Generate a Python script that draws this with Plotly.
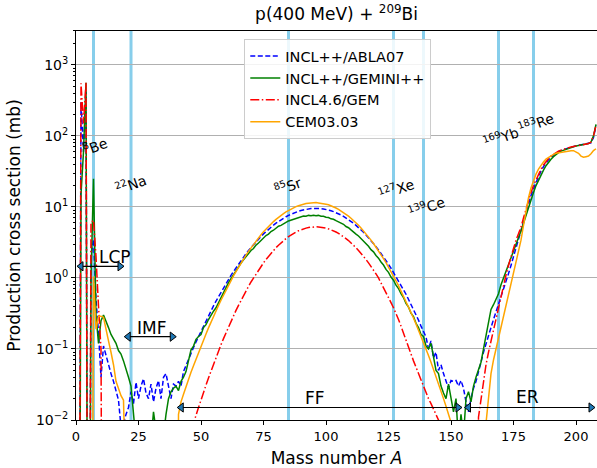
import numpy as np
import plotly.graph_objects as go

# Mass numbers A = 1 .. 208
A = list(range(1, 209))

# ---- INCL++/ABLA07 (mb) ----
abla07 = [
    0, 300, 60, 420, 0, 2.0, 3.5, 0.5, 0.17, 0.04,                      # 1-10
    0.11, 0.08, 0.06, 0.045, 0.035, 0.026, 0.019, 0.008, 0.009, 0.012,  # 11-20
    0.015, 0.025, 0.017, 0.034, 0.02, 0.03, 0.038, 0.024, 0.02, 0.032,  # 21-30
    0.018, 0.028, 0.036, 0.02, 0.04, 0.045, 0.03, 0.02, 0.032, 0.03,   # 31-40
    0.035, 0.03, 0.048, 0.059, 0.072, 0.087, 0.105, 0.126, 0.15, 0.179, # 41-50
    0.212, 0.251, 0.296, 0.347, 0.405, 0.472, 0.547, 0.632, 0.728, 0.836,  # 51-60
    0.955, 1.09, 1.23, 1.39, 1.57, 1.76, 1.96, 2.19, 2.43, 2.68,       # 61-70
    2.95, 3.24, 3.53, 3.85, 4.17, 4.5, 4.84, 5.2, 5.55, 5.9,           # 71-80
    6.25, 6.61, 6.95, 7.28, 7.6, 7.91, 8.2, 8.47, 8.71, 8.93,          # 81-90
    9.12, 9.27, 9.4, 9.48, 9.53, 9.55, 9.53, 9.47, 9.37, 9.23,         # 91-100
    9.05, 8.84, 8.59, 8.32, 8.02, 7.7, 7.36, 7.0, 6.64, 6.26,          # 101-110
    5.89, 5.5, 5.13, 4.75, 4.39, 4.03, 3.69, 3.37, 3.05, 2.76,         # 111-120
    2.48, 2.23, 1.99, 1.77, 1.56, 1.37, 1.2, 1.05, 0.91, 0.79,         # 121-130
    0.68, 0.59, 0.5, 0.43, 0.36, 0.3, 0.255, 0.21, 0.18, 0.148,        # 131-140
    0.1, 0.13, 0.075, 0.09, 0.05, 0.06, 0.045, 0.035, 0.028, 0.036,    # 141-150
    0.035, 0.036, 0.03, 0.036, 0.028, 0.018, 0.013, 0.02, 0.028, 0.035,  # 151-160
    0.05, 0.065, 0.09, 0.12, 0.16, 0.2, 0.26, 0.33, 0.42, 0.55,        # 161-170
    0.7, 0.9, 1.15, 1.5, 2.0, 2.6, 3.4, 4.4, 6, 8,                     # 171-180
    11, 14.5, 18, 22, 27, 32, 37, 42, 46, 50,                          # 181-190
    54, 57, 60, 62, 64, 66, 68, 70, 71, 72,                            # 191-200
    73, 74, 75, 76, 77, 80, 95, 140,                                   # 201-208
]

# ---- INCL++/GEMINI++ (mb) ----
gemini = [
    0, 15, 60, 560, 0, 1.0, 25, 0.3, 0.12, 0.25,
    0.3, 0.25, 0.2, 0.16, 0.14, 0.12, 0.095, 0.085, 0.068, 0.05,
    0.04, 0.03, 0.012, 0.005, 0.004, 0.003, 0.004, 0.003, 0.004, 0.005,
    0.013, 0.006, 0.004, 0.005, 0.006, 0.012, 0.02, 0.025, 0.028, 0.03,
    0.026, 0.035, 0.04, 0.048, 0.07, 0.097, 0.11, 0.137, 0.15, 0.16,
    0.2, 0.22, 0.26, 0.3, 0.34, 0.38, 0.45, 0.53, 0.63, 0.74,
    0.86, 0.98, 1.12, 1.28, 1.45, 1.62, 1.8, 2.0, 2.2, 2.44,
    2.6, 2.9, 3.1, 3.4, 3.6, 3.95, 4.15, 4.5, 4.7, 5.0,
    5.35, 5.5, 5.85, 6.05, 6.35, 6.5, 6.8, 6.9, 7.15, 7.2,
    7.45, 7.4, 7.6, 7.5, 7.65, 7.5, 7.6, 7.4, 7.4, 7.15,
    7.1, 6.8, 6.7, 6.4, 6.2, 5.9, 5.7, 5.3, 5.1, 4.75,
    4.5, 4.15, 3.9, 3.6, 3.35, 3.0, 2.8, 2.5, 2.33, 2.07,
    1.9, 1.68, 1.52, 1.32, 1.2, 1.03, 0.93, 0.79, 0.71, 0.6,
    0.53, 0.44, 0.39, 0.32, 0.285, 0.23, 0.2, 0.16, 0.15, 0.11,
    0.1, 0.12, 0.075, 0.05, 0.045, 0.03, 0.024, 0.02, 0.032, 0.02,
    0.013, 0.02, 0.005, 0.012, 0.006, 0.02, 0.025, 0.018, 0.03, 0.04,
    0.05, 0.065, 0.1, 0.15, 0.22, 0.36, 0.42, 0.5, 0.6, 0.8,
    1.0, 1.3, 1.6, 2.0, 2.5, 3.0, 3.7, 4.6, 6.0, 7.8,
    10, 13, 16, 20, 24, 28.5, 33, 38, 43, 47,
    51, 55, 58, 61, 63, 65, 67, 69, 70.5, 72,
    73, 74, 75, 76, 78, 82, 100, 145,
]

# ---- INCL4.6/GEM (mb) ----
gem = [
    0, 550, 150, 560, 0, 6, 6.5, 2, 0.4, 0.1,
    0, 0, 0, 0, 0, 0, 0, 0, 0, 0,
    0, 0, 0, 0, 0, 0, 0, 0, 0, 0,
    0, 0, 0, 0, 0, 0, 0, 0, 0, 0,
    0, 0, 0, 0, 0, 0, 0.009, 0.012, 0.015, 0.019,
    0.025, 0.031, 0.039, 0.049, 0.061, 0.076, 0.094, 0.115, 0.14, 0.17,
    0.205, 0.246, 0.294, 0.349, 0.412, 0.485, 0.566, 0.659, 0.762, 0.877,
    1.0, 1.14, 1.29, 1.46, 1.63, 1.82, 2.02, 2.23, 2.44, 2.67,
    2.89, 3.13, 3.36, 3.58, 3.81, 4.03, 4.24, 4.43, 4.61, 4.77,
    4.91, 5.03, 5.13, 5.2, 5.23, 5.25, 5.23, 5.2, 5.13, 5.03,
    4.91, 4.77, 4.61, 4.43, 4.24, 4.03, 3.81, 3.58, 3.36, 3.13,
    2.89, 2.67, 2.44, 2.23, 2.02, 1.82, 1.63, 1.46, 1.29, 1.14,
    1.0, 0.86, 0.74, 0.63, 0.53, 0.45, 0.38, 0.32, 0.26, 0.21,
    0.17, 0.135, 0.105, 0.085, 0.068, 0.055, 0.045, 0.037, 0.03, 0.025,
    0.02, 0.017, 0.014, 0.012, 0.01, 0.007, 0, 0, 0, 0,
    0, 0, 0, 0, 0, 0, 0, 0, 0, 0,
    0.011, 0.02, 0.035, 0.06, 0.09, 0.13, 0.19, 0.27, 0.38, 0.52,
    0.75, 1.1, 1.5, 2.0, 2.7, 3.4, 4.2, 5.2, 7, 9.5,
    12.5, 16, 20, 24, 29, 34, 39, 44, 48, 52,
    55, 58, 61, 63, 65, 67, 69, 70, 71, 72,
    73, 74, 75, 76, 78, 82, 100, 140,
]

# ---- CEM03.03 (mb) ----
cem = [
    0, 0, 0, 0, 0, 0, 1.05, 0.19, 0.29, 0.29,
    0.28, 0.2, 0.13, 0.09, 0.06, 0.035, 0.027, 0.022, 0.019, 0,
    0, 0, 0, 0, 0, 0, 0, 0, 0, 0,
    0, 0, 0, 0, 0, 0, 0, 0, 0, 0,
    0.012, 0.018, 0.023, 0.03, 0.037, 0.047, 0.058, 0.072, 0.089, 0.11,
    0.134, 0.163, 0.198, 0.24, 0.287, 0.344, 0.41, 0.486, 0.574, 0.675,
    0.79, 0.92, 1.07, 1.23, 1.42, 1.62, 1.85, 2.1, 2.37, 2.66,
    2.98, 3.32, 3.68, 4.06, 4.47, 4.89, 5.32, 5.77, 6.22, 6.68,
    7.16, 7.62, 8.07, 8.53, 8.95, 9.38, 9.75, 10.1, 10.4, 10.7,
    11.0, 11.2, 11.3, 11.4, 11.5, 11.5, 11.4, 11.3, 11.1, 10.9,
    10.7, 10.4, 10.0, 9.66, 9.25, 8.81, 8.36, 7.89, 7.41, 6.93,
    6.46, 5.98, 5.51, 5.06, 4.61, 4.2, 3.79, 3.41, 3.05, 2.72,
    2.42, 2.13, 1.87, 1.64, 1.43, 1.24, 1.06, 0.91, 0.78, 0.66,
    0.56, 0.47, 0.395, 0.33, 0.273, 0.225, 0.185, 0.151, 0.123, 0.1,
    0.081, 0.065, 0.052, 0.041, 0.032, 0.0255, 0.02, 0.0156, 0.0121, 0.0093,
    0, 0, 0, 0, 0, 0, 0, 0, 0, 0,
    0, 0, 0, 0.009, 0.02, 0.045, 0.07, 0.1, 0.15, 0.21,
    0.3, 0.43, 0.6, 0.85, 1.2, 1.7, 2.4, 3.4, 5.5, 9,
    13.5, 18.5, 24, 29, 34, 39, 43, 47, 50, 53,
    55, 57, 58, 59, 60, 61, 62, 62, 62, 60,
    57, 52, 50, 51, 52, 56, 62, 66,
]

# Nuclides marked by vertical lines
nuclide_A = [7, 22, 85, 127, 139, 169, 183]
nuclide_txt = ["<sup>8</sup>Be", "<sup>22</sup>Na", "<sup>85</sup>Sr", "<sup>127</sup>Xe",
               "<sup>139</sup>Ce", "<sup>169</sup>Yb", "<sup>183</sup>Re"]
nuclide_lab_x = [7.5, 22, 84.5, 128, 140, 170, 184]
nuclide_lab_y = [72, 21, 20, 18, 10, 95, 150]

# Regions: name, A-start, A-end, arrow height (mb), label position
region_name = ["LCP", "IMF", "FF", "ER"]
region_from = [2.0, 20.9, 42.1, 157.0]
region_to = [17.6, 38.5, 152.8, 206.0]
region_y = [1.46, 0.149, 0.015, 0.015]
region_lab_x = [15.6, 30.2, 95.7, 180.7]
region_lab_y = [2.0, 0.2, 0.0203, 0.0208]

series = [
    ("INCL++/ABLA07", abla07, "#0000ff", "5px,2.5px"),
    ("INCL++/GEMINI++", gemini, "#008000", "solid"),
    ("INCL4.6/GEM", gem, "#ff0000", "9px,2.5px,1.5px,2.5px"),
    ("CEM03.03", cem, "#ffa500", "solid"),
]

fig = go.Figure()
for name, vals, col, dash in series:
    v = np.array(vals, dtype=float)
    v = np.where(v > 0, v, 1e-9)  # like matplotlib's clipping of non-positive values on log axes
    fig.add_trace(go.Scatter(x=A, y=v, mode="lines", name=name,
                             line=dict(color=col, width=1.5, dash=dash)))

# Region arrows
for i in range(len(region_name)):
    fig.add_trace(go.Scatter(
        x=[region_from[i], region_to[i]], y=[region_y[i], region_y[i]],
        mode="lines+markers", showlegend=False, hoverinfo="skip",
        line=dict(color="black", width=1.2),
        marker=dict(symbol=["triangle-left", "triangle-right"], size=8,
                    color="#1f77b4", line=dict(color="black", width=1)),
    ))

shapes = []
for a in nuclide_A:
    shapes.append(dict(type="line", xref="x", yref="paper", x0=a, x1=a, y0=0, y1=1,
                       line=dict(color="#87ceeb", width=3), layer="between"))

annotations = []
for a, t, ly in zip(nuclide_lab_x, nuclide_txt, nuclide_lab_y):
    annotations.append(dict(x=a, y=np.log10(ly), xref="x", yref="y", text=t, showarrow=False,
                            textangle=-20, font=dict(size=14, color="black")))
for n, lx, ly in zip(region_name, region_lab_x, region_lab_y):
    annotations.append(dict(x=lx, y=np.log10(ly), xref="x", yref="y", text=n, showarrow=False,
                            font=dict(size=17, color="black")))

major = [1e-2, 1e-1, 1, 10, 100, 1000]
major_txt = ["10<sup>\u22122</sup>", "10<sup>\u22121</sup>", "10<sup>0</sup>",
             "10<sup>1</sup>", "10<sup>2</sup>", "10<sup>3</sup>"]
minor = [k * 10.0 ** e for e in range(-2, 4) for k in range(2, 10)]

fig.update_layout(
    width=597, height=468,
    margin=dict(l=76, r=0, t=31, b=48),
    paper_bgcolor="white", plot_bgcolor="white",
    font=dict(family="DejaVu Sans", size=13, color="black"),
    title=dict(text="p(400 MeV) + <sup>209</sup>Bi", x=0.5, xref="paper", xanchor="center",
               y=1 - 14 / 468, yanchor="middle", font=dict(size=17)),
    showlegend=True,
    legend=dict(x=0.323, y=0.979, xanchor="left", yanchor="top",
                bgcolor="rgba(255,255,255,0.85)", bordercolor="#cccccc", borderwidth=1,
                font=dict(size=14.5), tracegroupgap=0),
    shapes=shapes, annotations=annotations,
)
fig.update_xaxes(range=[0, 208.4], tickvals=list(range(0, 201, 25)), ticks="outside",
                 ticklen=4, tickwidth=1, tickcolor="black", showline=True, linecolor="black",
                 linewidth=1, mirror=True, showgrid=False, zeroline=False,
                 title=dict(text="Mass number <i>A</i>", font=dict(size=17), standoff=9),
                 tickfont=dict(size=13))
fig.update_yaxes(type="log", range=[-2, 3.477], tickvals=major, ticktext=major_txt,
                 ticks="outside", ticklen=4, tickwidth=1, tickcolor="black",
                 showline=True, linecolor="black", linewidth=1, mirror=False,
                 showgrid=True, gridcolor="#b0b0b0", gridwidth=1, zeroline=False,
                 minor=dict(tickvals=minor, ticks="outside", ticklen=2, tickcolor="black",
                            showgrid=False),
                 title=dict(text="Production cross section (mb)", font=dict(size=17), standoff=10),
                 tickfont=dict(size=14))

fig.write_html("out.html")
